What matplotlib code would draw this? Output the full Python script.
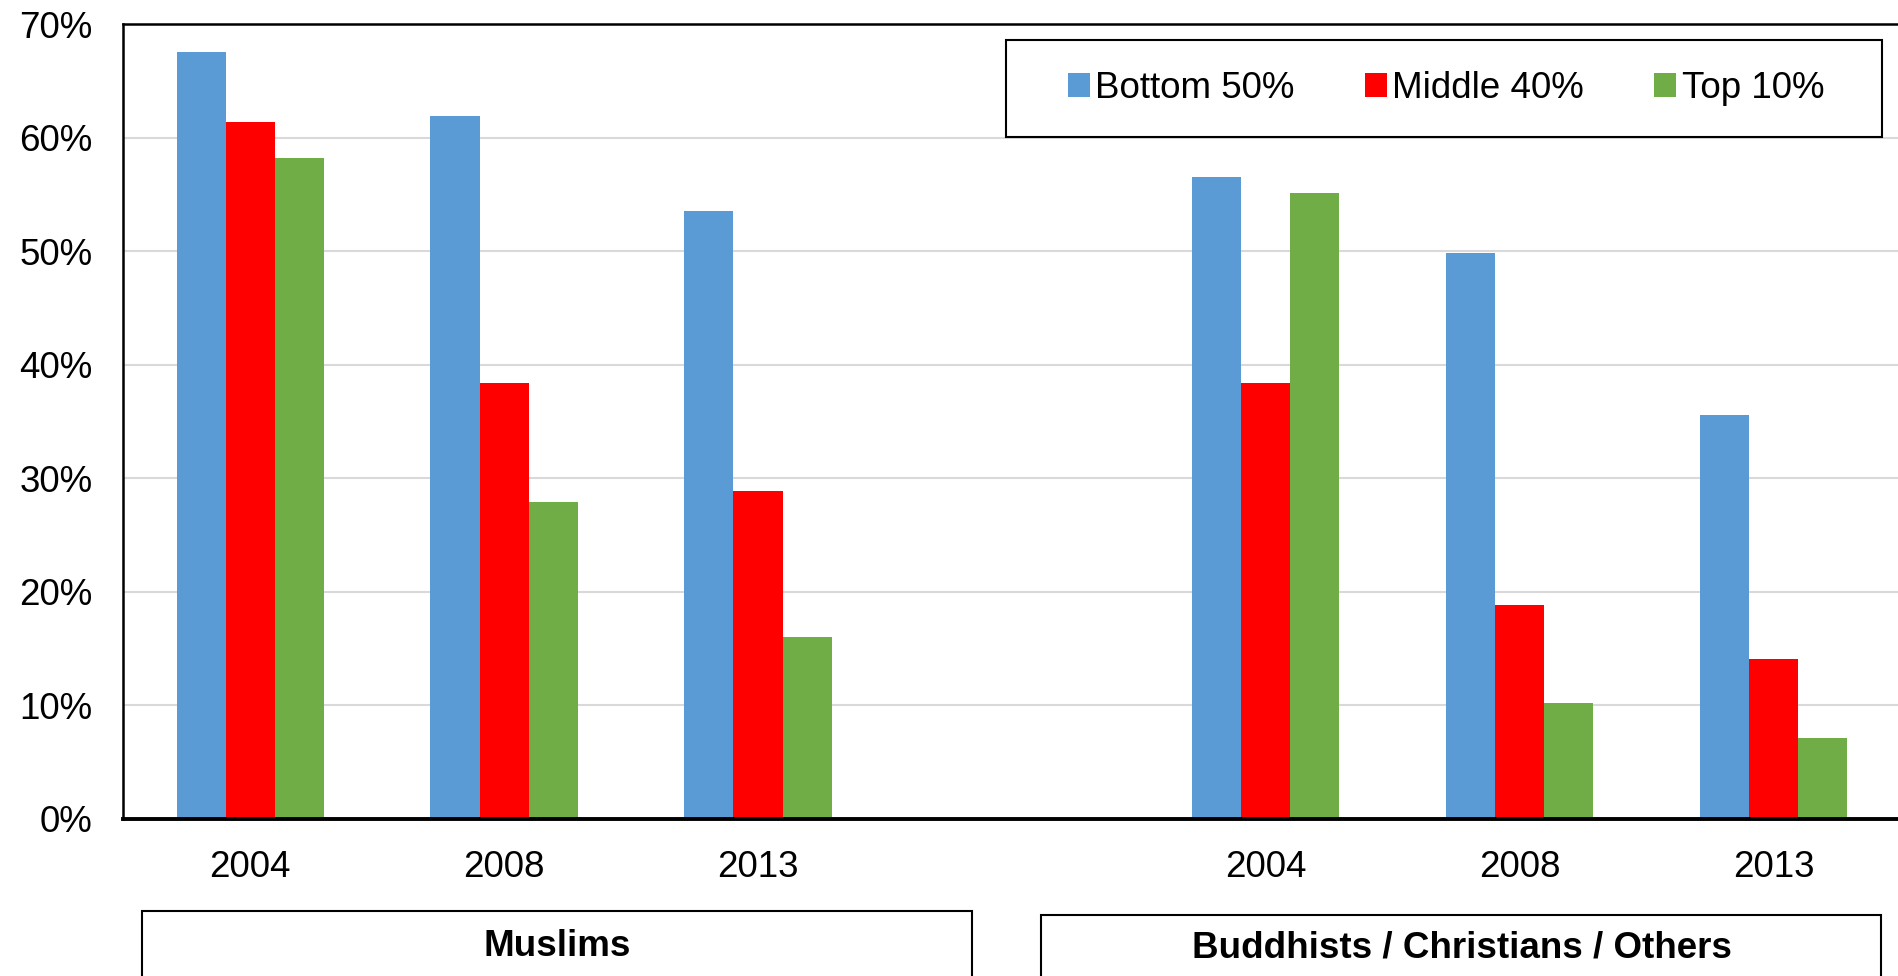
import numpy as np
import matplotlib.pyplot as plt
from matplotlib.patches import Rectangle, Patch

plt.rcParams['font.family'] = ['Liberation Sans', 'DejaVu Sans']

# data (share in %)
years = ['2004', '2008', '2013', '', '2004', '2008', '2013']
groups = ['Muslims', 'Buddhists / Christians / Others']
series = ['Bottom 50%', 'Middle 40%', 'Top 10%']
bottom50 = [67.5, 61.9, 53.5, np.nan, 56.5, 49.8, 35.6]
middle40 = [61.4, 38.4, 28.9, np.nan, 38.4, 18.8, 14.1]
top10 = [58.2, 27.9, 16.0, np.nan, 55.1, 10.2, 7.1]
colors = ['#5B9BD5', '#FF0000', '#70AD47']

fs = 26.5

fig = plt.figure(figsize=(18.99, 9.76), dpi=100)
ax = fig.add_axes([0.0648, 0.1609, 0.9362, 0.8145])

x = np.arange(len(years))
w = 0.193
for i, (vals, c) in enumerate(zip([bottom50, middle40, top10], colors)):
    ax.bar(x + (i - 1) * w, vals, width=w, color=c, zorder=3)

ax.set_xlim(-0.5, 6.5)
ax.set_ylim(0, 70)
ax.set_yticks(np.arange(0, 71, 10))
ax.set_yticklabels([f'{v}%' for v in range(0, 71, 10)])
ax.set_xticks(x)
ax.set_xticklabels(years)
ax.tick_params(axis='both', length=0, labelsize=fs)
ax.tick_params(axis='x', pad=22)
ax.tick_params(axis='y', pad=22)
ax.grid(axis='y', color='#D9D9D9', lw=1.5, zorder=0)

for s in ['left', 'top', 'right']:
    ax.spines[s].set_linewidth(1.8)
    ax.spines[s].set_color('black')
ax.spines['bottom'].set_linewidth(2.8)
ax.spines['bottom'].set_zorder(4)

# legend box
W, H = 1899.0, 976.0
fig.patches.append(Rectangle((1006 / W, 1 - 137 / H), 876 / W, 97 / H, transform=fig.transFigure,
                             fill=True, facecolor='white', edgecolor='black', lw=1.5, zorder=5))
handles = [Patch(facecolor=c, edgecolor='none') for c in colors]
leg = fig.legend(handles, series, loc='center', bbox_to_anchor=(1446 / W, 1 - 88.5 / H),
                 ncol=3, frameon=False, fontsize=fs, handlelength=0.6, handleheight=0.6,
                 handletextpad=0.15, columnspacing=1.9)
leg.set_zorder(6)

# group boxes under the axis
fig.patches.append(Rectangle((142 / W, -0.1), 830 / W, 0.1 + 1 - 911 / H, transform=fig.transFigure,
                             fill=False, edgecolor='black', lw=1.5))
fig.patches.append(Rectangle((1041 / W, -0.1), 840 / W, 0.1 + 1 - 915 / H, transform=fig.transFigure,
                             fill=False, edgecolor='black', lw=1.5))
fig.text(557 / W, 1 - 946 / H, groups[0], ha='center', va='center', fontsize=fs, fontweight='bold')
fig.text(1462 / W, 1 - 948 / H, groups[1], ha='center', va='center', fontsize=fs, fontweight='bold')

fig.savefig('out.png', dpi=100)
